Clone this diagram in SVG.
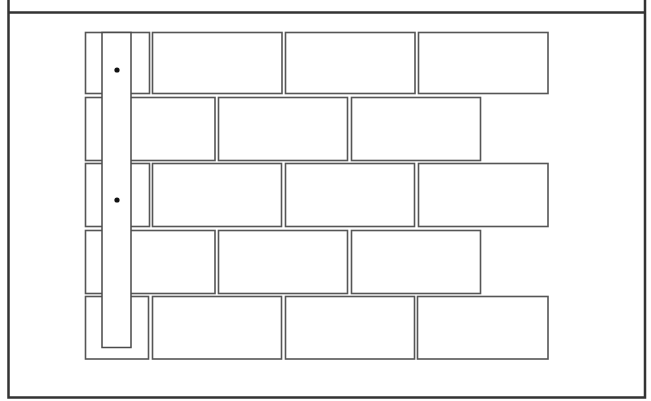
<svg xmlns="http://www.w3.org/2000/svg" width="651" height="401" viewBox="0 0 651 401">
<style>
.frame{fill:none;stroke:#333;stroke-width:2.5}
.brick{fill:#fff;stroke:#555;stroke-width:1.6}
.strip{fill:#fff;stroke:#4a4a4a;stroke-width:1.5}
.dot{fill:#111}
</style>
<rect width="651" height="401" fill="#fff"/>
<g id="frame">
<path class="frame" d="M8.5 0 V397.5 H645 V0"/>
<line class="frame" x1="8.5" y1="12.5" x2="645" y2="12.5"/>
</g>
<g id="row1">
<rect class="brick" x="85.5" y="32.5" width="64" height="61"/>
<rect class="brick" x="152.5" y="32.5" width="129.5" height="61"/>
<rect class="brick" x="285.5" y="32.5" width="129.5" height="61"/>
<rect class="brick" x="418.5" y="32.5" width="129.5" height="61"/>
</g>
<g id="row2">
<rect class="brick" x="85.5" y="97.5" width="129.5" height="63"/>
<rect class="brick" x="218.5" y="97.5" width="129" height="63"/>
<rect class="brick" x="351.5" y="97.5" width="129" height="63"/>
</g>
<g id="row3">
<rect class="brick" x="85.5" y="163.5" width="64" height="63"/>
<rect class="brick" x="152.5" y="163.5" width="129" height="63"/>
<rect class="brick" x="285.5" y="163.5" width="129" height="63"/>
<rect class="brick" x="418.5" y="163.5" width="129.5" height="63"/>
</g>
<g id="row4">
<rect class="brick" x="85.5" y="230.5" width="129.5" height="63"/>
<rect class="brick" x="218.5" y="230.5" width="129" height="63"/>
<rect class="brick" x="351.5" y="230.5" width="129" height="63"/>
</g>
<g id="row5">
<rect class="brick" x="85.5" y="296.5" width="63" height="62.5"/>
<rect class="brick" x="152.5" y="296.5" width="129" height="62.5"/>
<rect class="brick" x="285.5" y="296.5" width="129" height="62.5"/>
<rect class="brick" x="417.5" y="296.5" width="130.5" height="62.5"/>
</g>
<g id="strip">
<rect class="strip" x="102" y="32.5" width="29" height="315"/>
<circle class="dot" cx="117" cy="70" r="2.6"/>
<circle class="dot" cx="117" cy="200" r="2.6"/>
</g>
</svg>
